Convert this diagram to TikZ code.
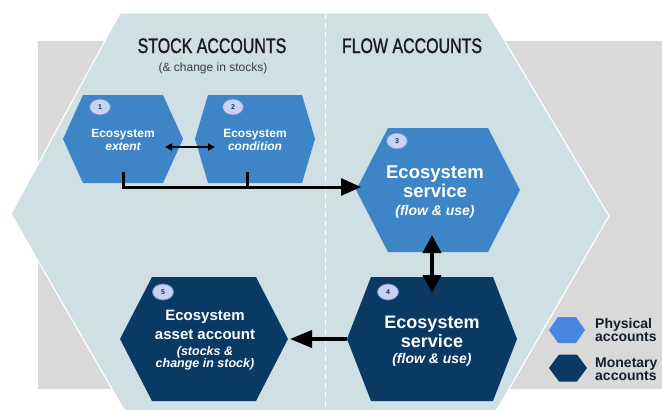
\documentclass[tikz,border=0pt]{standalone}
\usepackage{fontspec}
\setmainfont{Liberation Sans}
\newfontfamily\titlefont[FakeBold=1.3]{Liberation Sans}
\usetikzlibrary{arrows.meta,calc,shapes.geometric}
\definecolor{bggray}{RGB}{217,217,217}
\definecolor{bighex}{RGB}{207,224,228}
\definecolor{lighthex}{RGB}{61,133,198}
\definecolor{darkhex}{RGB}{10,57,100}
\definecolor{leglight}{RGB}{72,134,224}
\definecolor{badgef}{RGB}{200,210,242}
\definecolor{badgeb}{RGB}{110,140,205}
\definecolor{titlec}{RGB}{25,25,25}
\definecolor{subc}{RGB}{60,60,60}
\definecolor{legc}{RGB}{20,30,45}
\newcommand\hexa[7]{%
  \fill[#7] (#2-#4,#3) -- (#2-#6,#3-#5) -- (#2+#6,#3-#5) -- (#2+#4,#3) -- (#2+#6,#3+#5) -- (#2-#6,#3+#5) -- cycle;
  \coordinate (#1) at (#2,#3);}
\newcommand\fs[1]{\fontsize{#1}{#1}\selectfont}
\begin{document}
\begin{tikzpicture}[x=1pt,y=-1pt,
  badge/.style={ellipse, draw=badgeb, fill=badgef, line width=0.8pt, inner sep=0pt,
    minimum width=21pt, minimum height=16pt, font=\bfseries\fs{7}, text=darkhex},
  wt/.style={anchor=base, text=white, inner sep=0pt},
  title/.style={anchor=base, text=titlec, inner sep=0pt, font=\titlefont\fs{21}},
  legt/.style={anchor=base west, text=legc, inner sep=0pt, font=\bfseries\fs{14}},
  arr/.style={line width=#1, draw=black},
]
\useasboundingbox (0,0) rectangle (662,410);
\fill[bggray] (38,41) rectangle (662,389);
\draw[white, line width=1.2pt, fill=bighex] (11,214) -- (120,13) -- (488,13) -- (609,216) -- (494,415) -- (127,415) -- cycle;
\draw[white, line width=0.8pt, dash pattern=on 5pt off 4pt] (325,14) -- (325,414);

% titles
\node[title] (stock) at (212,53) {\scalebox{0.76}[1]{STOCK ACCOUNTS}};
\node[title] (flow) at (412,53) {\scalebox{0.76}[1]{FLOW ACCOUNTS}};
\node[anchor=base, inner sep=0pt, text=subc, font=\fs{12}] (sub) at (213,71) {(\& change in stocks)};

% hexagons
\hexa{h1}{123}{139}{60}{44}{40}{lighthex}
\hexa{h2}{255}{139}{60}{44}{47}{lighthex}
\hexa{h3}{438}{190}{82}{62}{50}{lighthex}
\hexa{h4}{432}{339}{85}{62}{61}{darkhex}
\hexa{h5}{204}{339}{84}{62}{52}{darkhex}

% badges
\node[badge] (b1) at (100,107) {1};
\node[badge] (b2) at (233,107) {2};
\node[badge] (b3) at (397,141) {3};
\node[badge] (b4) at (388,292) {4};
\node[badge] (b5) at (163,292) {5};

% texts
\node[wt, font=\bfseries\fs{12}] (t1a) at (123,137) {Ecosystem};
\node[wt, font=\bfseries\itshape\fs{12}] (t1b) at (123,150) {extent};
\node[wt, font=\bfseries\fs{12}] (t2a) at (255,137) {Ecosystem};
\node[wt, font=\bfseries\itshape\fs{12}] (t2b) at (255,150) {condition};

\node[wt, font=\bfseries\fs{18.5}] (t3a) at (435,178) {Ecosystem};
\node[wt, font=\bfseries\fs{18.5}] (t3b) at (435,197) {service};
\node[wt, font=\bfseries\itshape\fs{14}] (t3c) at (435,215) {(flow \& use)};

\node[wt, font=\bfseries\fs{18}] (t4a) at (432,328) {Ecosystem};
\node[wt, font=\bfseries\fs{18}] (t4b) at (432,347) {service};
\node[wt, font=\bfseries\itshape\fs{14}] (t4c) at (432,363) {(flow \& use)};

\node[wt, font=\bfseries\fs{15}] (t5a) at (205,320) {Ecosystem};
\node[wt, font=\bfseries\fs{15}] (t5b) at (205,339) {asset account};
\node[wt, font=\bfseries\itshape\fs{12.5}] (t5c) at (205,355) {(stocks \&};
\node[wt, font=\bfseries\itshape\fs{12.5}] (t5d) at (205,367) {change in stock)};

% connectors
\draw[arr=1.8pt, {Triangle[length=7pt,width=7pt]}-{Triangle[length=7pt,width=7pt]}]
  ($(h1)+(42,8)$) -- ($(h2)+(-40,8)$);
\draw[arr=3pt, -{Triangle[length=20pt,width=17pt]}]
  ($(h1)+(0,33)$) |- ($(h3)+(-77,-3)$);
\draw[arr=3pt] ($(h2)+(-8,33)$) -- ($(h2)+(-8,49.5)$);
\draw[arr=4pt, {Triangle[length=18pt,width=18pt]}-{Triangle[length=18pt,width=18pt]}]
  ($(h3)+(-6,45)$) -- ($(h4)+(0,-46)$);
\draw[arr=3.5pt, -{Triangle[length=22pt,width=17pt]}]
  ($(h4)+(-85,0)$) -- ($(h5)+(86,0)$);

% legend
\hexa{lg1}{567}{330}{18}{13}{9}{leglight}
\hexa{lg2}{568}{368}{19}{13.5}{9}{darkhex}
\node[legt] (l1a) at (595,328) {Physical};
\node[legt] (l1b) at (595,341) {accounts};
\node[legt] (l2a) at (595,367) {Monetary};
\node[legt] (l2b) at (595,380) {accounts};
\end{tikzpicture}
\end{document}
